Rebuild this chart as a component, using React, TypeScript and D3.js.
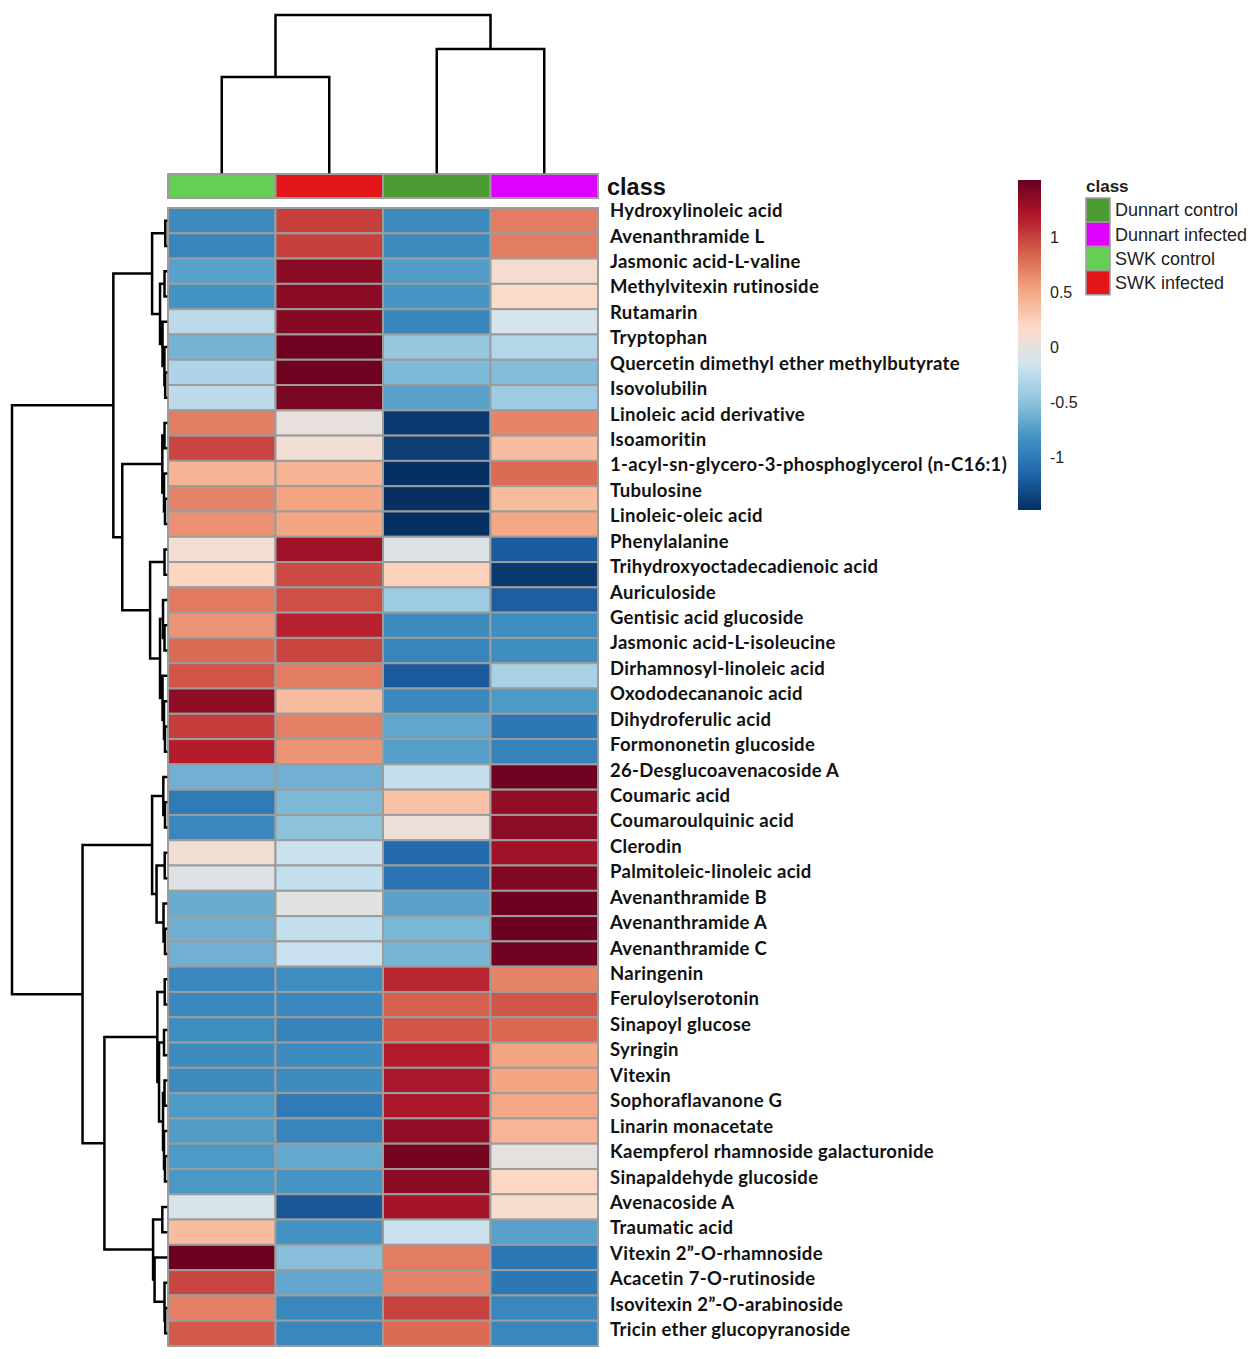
import { useEffect, useRef } from "react"
import * as d3 from "d3"

type Tree = number | [number, Tree, Tree]

const metabolites = [
  "Hydroxylinoleic acid",
  "Avenanthramide L",
  "Jasmonic acid-L-valine",
  "Methylvitexin rutinoside",
  "Rutamarin",
  "Tryptophan",
  "Quercetin dimethyl ether methylbutyrate",
  "Isovolubilin",
  "Linoleic acid derivative",
  "Isoamoritin",
  "1-acyl-sn-glycero-3-phosphoglycerol (n-C16:1)",
  "Tubulosine",
  "Linoleic-oleic acid",
  "Phenylalanine",
  "Trihydroxyoctadecadienoic acid",
  "Auriculoside",
  "Gentisic acid glucoside",
  "Jasmonic acid-L-isoleucine",
  "Dirhamnosyl-linoleic acid",
  "Oxododecananoic acid",
  "Dihydroferulic acid",
  "Formononetin glucoside",
  "26-Desglucoavenacoside A",
  "Coumaric acid",
  "Coumaroulquinic acid",
  "Clerodin",
  "Palmitoleic-linoleic acid",
  "Avenanthramide B",
  "Avenanthramide A",
  "Avenanthramide C",
  "Naringenin",
  "Feruloylserotonin",
  "Sinapoyl glucose",
  "Syringin",
  "Vitexin",
  "Sophoraflavanone G",
  "Linarin monacetate",
  "Kaempferol rhamnoside galacturonide",
  "Sinapaldehyde glucoside",
  "Avenacoside A",
  "Traumatic acid",
  "Vitexin 2\u201D-O-rhamnoside",
  "Acacetin 7-O-rutinoside",
  "Isovitexin 2\u201D-O-arabinoside",
  "Tricin ether glucopyranoside",
]

// column order in the heatmap
const groups = ["SWK control", "SWK infected", "Dunnart control", "Dunnart infected"]
const legendGroups = ["Dunnart control", "Dunnart infected", "SWK control", "SWK infected"]
const groupColors: Record<string, string> = {
  "Dunnart control": "#4c9a32",
  "Dunnart infected": "#df00ff",
  "SWK control": "#66cd55",
  "SWK infected": "#e4161a",
}

const swkControl = [
  -0.88, -0.92, -0.72, -0.82, -0.27, -0.6, -0.32, -0.25, 0.72, 0.98, 0.43, 0.68, 0.62, 0.1, 0.22,
  0.73, 0.6, 0.8, 0.9, 1.34, 1.01, 1.17, -0.62, -1.0, -0.9, 0.09, -0.05, -0.65, -0.63, -0.62,
  -0.9, -0.89, -0.86, -0.87, -0.87, -0.77, -0.75, -0.77, -0.78, -0.1, 0.37, 1.5, 0.98, 0.7, 0.88,
]
const swkInfected = [
  1.0, 1.0, 1.37, 1.37, 1.38, 1.49, 1.49, 1.44, 0.02, 0.1, 0.43, 0.52, 0.52, 1.27, 0.95,
  0.93, 1.15, 0.98, 0.72, 0.38, 0.7, 0.6, -0.62, -0.56, -0.5, -0.18, -0.22, -0.03, -0.22, -0.19,
  -0.86, -0.89, -0.93, -0.87, -0.87, -1.0, -0.92, -0.67, -0.8, -1.24, -0.83, -0.52, -0.68, -0.9, -0.9,
]
const dunnartControl = [
  -0.88, -0.88, -0.75, -0.8, -0.91, -0.46, -0.56, -0.72, -1.42, -1.4, -1.48, -1.48, -1.48, -0.06, 0.25,
  -0.42, -0.87, -0.91, -1.22, -0.89, -0.69, -0.74, -0.22, 0.35, 0.04, -1.12, -1.05, -0.72, -0.58, -0.59,
  1.12, 0.85, 0.9, 1.18, 1.22, 1.22, 1.33, 1.46, 1.37, 1.24, -0.18, 0.72, 0.68, 0.99, 0.8,
]
const dunnartInfected = [
  0.72, 0.72, 0.12, 0.17, -0.12, -0.3, -0.54, -0.42, 0.68, 0.38, 0.8, 0.38, 0.5, -1.22, -1.42,
  -1.2, -0.86, -0.85, -0.36, -0.77, -1.02, -0.94, 1.49, 1.33, 1.36, 1.27, 1.41, 1.5, 1.5, 1.49,
  0.68, 0.9, 0.82, 0.52, 0.52, 0.5, 0.42, 0.0, 0.2, 0.13, -0.72, -1.03, -1.02, -0.9, -0.9,
]

// rev(RdBu, 10 classes) as used by the original colour key
const palette = [
  "#053061", "#2166AC", "#4393C3", "#92C5DE", "#D1E5F0",
  "#FDDBC7", "#F4A582", "#D6604D", "#B2182B", "#67001F",
]
const colorDomain = [-1.48, 1.52]
const colorTicks = [1, 0.5, 0, -0.5, -1]

// dendrograms: [merge height, left, right]; leaves are indices
const colTree: Tree = [157, [95, 0, 1], [123, 2, 3]]
const rowTree: Tree = [155,
  [53,
    [14, [0.7, 0, 1], [6, [1.5, 2, 3], [3.5, 4, [1.6, 5, [0.8, 6, 7]]]]],
    [44,
      [3.7, [1.5, 8, 9], [2, 10, [1, 11, 12]]],
      [16, [1.5, 13, 14], [6, [3, 15, [1.5, 16, 17]], [3.5, 18, [2, 19, [1, 20, 21]]]]]]],
  [84,
    [14, [2.7, 22, [1, 23, 24]], [9.5, [1.3, 25, 26], [2.5, 27, [1, 28, 29]]]],
    [62,
      [8.7, [1.3, 30, 31], [7, [2, 32, 33], [3, [1.5, 34, 35], [2, 36, [1, 37, 38]]]]],
      [13, [3.7, 39, 40], [11.5, 41, [1.5, 42, [0.8, 43, 44]]]]]]]

const SANS = "'Liberation Sans', Arial, sans-serif"
const LABEL = "Lato, 'Open Sans', sans-serif"

export default function App() {
  const svgRef = useRef<SVGSVGElement>(null)

  useEffect(() => {
    if (!svgRef.current) return
    const svg = d3.select(svgRef.current)
    svg.selectAll("*").remove()

    const columns = [swkControl, swkInfected, dunnartControl, dunnartInfected]
    const x = d3.scaleBand<number>().domain(d3.range(groups.length)).range([168, 598])
    const y = d3.scaleBand<number>().domain(d3.range(metabolites.length)).range([208, 1346])
    const yLabel = d3.scalePoint<number>().domain(d3.range(metabolites.length)).range([211, 1330])
    const color = d3.scaleLinear<string>()
      .domain(palette.map((_, k) => colorDomain[0] + (k / (palette.length - 1)) * (colorDomain[1] - colorDomain[0])))
      .range(palette)
      .interpolate(d3.interpolateRgb)
      .clamp(true)

    svg.append("rect").attr("width", 1252).attr("height", 1359).attr("fill", "#fff")

    // heatmap cells
    const cells = svg.append("g")
    columns.forEach((col, j) => {
      col.forEach((v, i) => {
        cells.append("rect")
          .attr("x", x(j)!)
          .attr("y", y(i)!)
          .attr("width", x.bandwidth())
          .attr("height", y.bandwidth())
          .attr("fill", color(v))
          .attr("stroke", "#9c9c9c")
          .attr("stroke-width", 2)
      })
    })

    // class bar
    groups.forEach((g, j) => {
      svg.append("rect")
        .attr("x", x(j)!)
        .attr("y", 174)
        .attr("width", x.bandwidth())
        .attr("height", 24)
        .attr("fill", groupColors[g])
        .attr("stroke", "#9c9c9c")
        .attr("stroke-width", 2)
    })
    svg.append("text")
      .attr("x", 607).attr("y", 195)
      .attr("font-family", SANS).attr("font-weight", "bold").attr("font-size", 23.5)
      .attr("fill", "#111").text("class")

    // row labels
    svg.append("g").selectAll("text").data(metabolites).join("text")
      .attr("x", 610)
      .attr("y", (_, i) => yLabel(i)!)
      .attr("dy", "0.33em")
      .attr("font-family", LABEL).attr("font-weight", "bold").attr("font-size", 18.5)
      .attr("letter-spacing", 0.3)
      .attr("fill", "#111")
      .text((d) => d)

    // dendrograms
    const drawTree = (
      tree: Tree,
      leafPos: (i: number) => number,
      hPos: (h: number) => number,
      vertical: boolean,
    ) => {
      const path = d3.path()
      const seg = (a1: number, b1: number, a2: number, b2: number) => {
        if (vertical) { path.moveTo(a1, b1); path.lineTo(a2, b2) } else { path.moveTo(b1, a1); path.lineTo(b2, a2) }
      }
      const walk = (n: Tree): { p: number; h: number } => {
        if (typeof n === "number") return { p: leafPos(n), h: 0 }
        const [h, l, r] = n
        const a = walk(l)
        const b = walk(r)
        seg(a.p, hPos(a.h), a.p, hPos(h))
        seg(b.p, hPos(b.h), b.p, hPos(h))
        seg(a.p, hPos(h), b.p, hPos(h))
        return { p: (a.p + b.p) / 2, h }
      }
      walk(tree)
      svg.append("path")
        .attr("d", path.toString())
        .attr("fill", "none")
        .attr("stroke", "#000")
        .attr("stroke-width", 2.5)
        .attr("stroke-linecap", "square")
    }

    const colH = d3.scaleLinear().domain([0, 157]).range([172, 15])
    drawTree(colTree, (j) => x(j)! + x.bandwidth() / 2, colH, true)
    const rowH = d3.scaleLinear().domain([0, 155]).range([166, 12])
    drawTree(rowTree, (i) => y(i)! + y.bandwidth() / 2, rowH, false)

    // colour key
    const cy = d3.scaleLinear().domain(colorDomain).range([510, 180])
    const defs = svg.append("defs")
    const grad = defs.append("linearGradient").attr("id", "rdbu")
      .attr("x1", 0).attr("y1", 1).attr("x2", 0).attr("y2", 0)
    d3.range(0, 1.0001, 0.02).forEach((s) => {
      grad.append("stop").attr("offset", s)
        .attr("stop-color", color(colorDomain[0] + s * (colorDomain[1] - colorDomain[0])))
    })
    svg.append("rect")
      .attr("x", 1018).attr("y", cy(colorDomain[1]))
      .attr("width", 23).attr("height", cy(colorDomain[0]) - cy(colorDomain[1]))
      .attr("fill", "url(#rdbu)")
    svg.append("g").selectAll("text").data(colorTicks).join("text")
      .attr("x", 1050)
      .attr("y", (d) => cy(d))
      .attr("dy", "0.35em")
      .attr("font-family", SANS).attr("font-size", 16)
      .attr("fill", "#222")
      .text((d) => String(d))

    // class legend
    const lg = svg.append("g").attr("transform", "translate(1086,198)")
    lg.append("text").attr("x", 0).attr("y", -6)
      .attr("font-family", SANS).attr("font-weight", "bold").attr("font-size", 17)
      .attr("fill", "#222").text("class")
    legendGroups.forEach((g, k) => {
      lg.append("rect")
        .attr("x", 0).attr("y", k * 24.2)
        .attr("width", 24).attr("height", 24.2)
        .attr("fill", groupColors[g])
        .attr("stroke", "#9c9c9c").attr("stroke-width", 1.5)
      lg.append("text")
        .attr("x", 29).attr("y", k * 24.2 + 12.1)
        .attr("dy", "0.35em")
        .attr("font-family", SANS).attr("font-size", 18)
        .attr("fill", "#222").text(g)
    })
  }, [])

  return (
    <svg
      ref={svgRef}
      width={1252}
      height={1359}
      style={{ position: "absolute", left: 0, top: 0 }}
    />
  )
}
